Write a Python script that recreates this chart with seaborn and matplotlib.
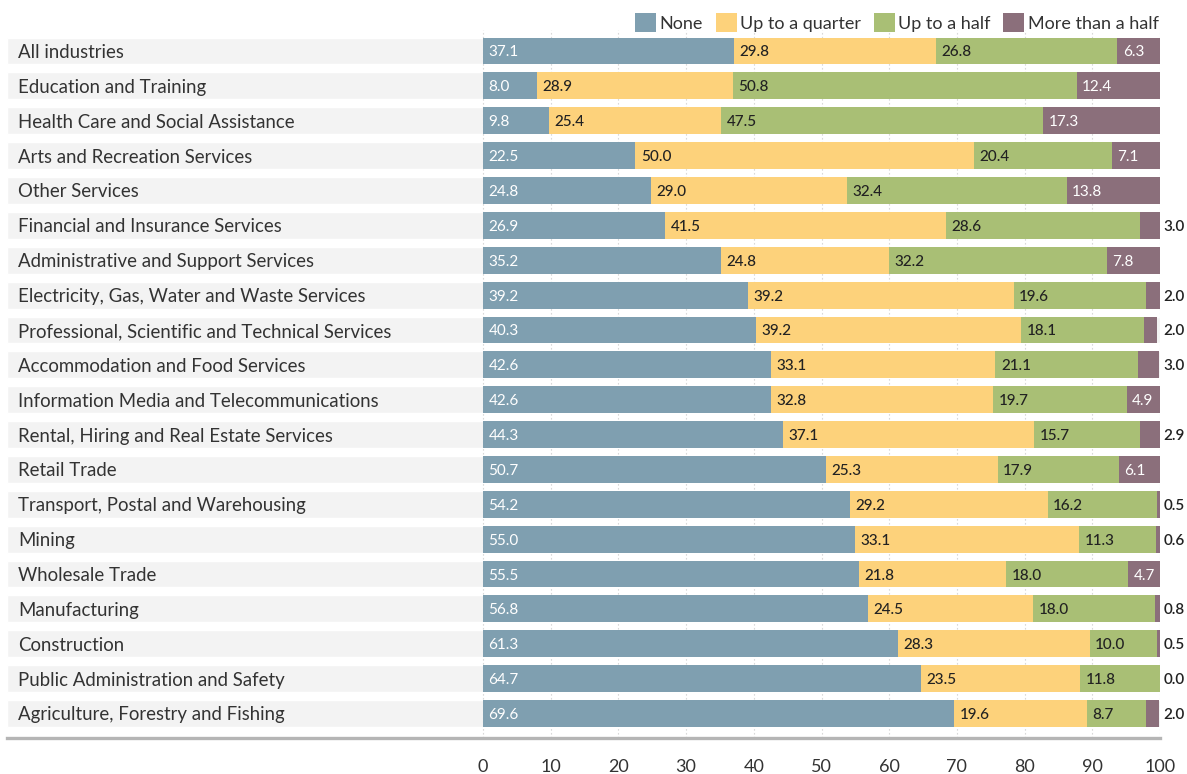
import matplotlib
matplotlib.use("Agg")
import matplotlib.pyplot as plt
from matplotlib.patches import Patch
import numpy as np
import pandas as pd
import seaborn as sns

industries = [
    "All industries",
    "Education and Training",
    "Health Care and Social Assistance",
    "Arts and Recreation Services",
    "Other Services",
    "Financial and Insurance Services",
    "Administrative and Support Services",
    "Electricity, Gas, Water and Waste Services",
    "Professional, Scientific and Technical Services",
    "Accommodation and Food Services",
    "Information Media and Telecommunications",
    "Rental, Hiring and Real Estate Services",
    "Retail Trade",
    "Transport, Postal and Warehousing",
    "Mining",
    "Wholesale Trade",
    "Manufacturing",
    "Construction",
    "Public Administration and Safety",
    "Agriculture, Forestry and Fishing",
]
none = [37.1, 8.0, 9.8, 22.5, 24.8, 26.9, 35.2, 39.2, 40.3, 42.6,
        42.6, 44.3, 50.7, 54.2, 55.0, 55.5, 56.8, 61.3, 64.7, 69.6]
up_to_quarter = [29.8, 28.9, 25.4, 50.0, 29.0, 41.5, 24.8, 39.2, 39.2, 33.1,
                 32.8, 37.1, 25.3, 29.2, 33.1, 21.8, 24.5, 28.3, 23.5, 19.6]
up_to_half = [26.8, 50.8, 47.5, 20.4, 32.4, 28.6, 32.2, 19.6, 18.1, 21.1,
              19.7, 15.7, 17.9, 16.2, 11.3, 18.0, 18.0, 10.0, 11.8, 8.7]
more_than_half = [6.3, 12.4, 17.3, 7.1, 13.8, 3.0, 7.8, 2.0, 2.0, 3.0,
                  4.9, 2.9, 6.1, 0.5, 0.6, 4.7, 0.8, 0.5, 0.0, 2.0]
series_names = ["None", "Up to a quarter", "Up to a half", "More than a half"]
x_ticks = [0, 10, 20, 30, 40, 50, 60, 70, 80, 90, 100]

colors = ["#7f9fb0", "#fdd27b", "#a9bf75", "#8b6f7b"]
text_colors = ["white", "#222222", "#222222", "white"]

W, H = 1187, 774
fig = plt.figure(figsize=(W / 100, H / 100), dpi=100)
sns.set_style("white")
plt.rcParams["font.family"] = ["Lato", "DejaVu Sans"]

# axes span the label column as well as the bar area
left_px, right_px, top_px, bottom_px = 7, 1160, 30, 738
ax = fig.add_axes([left_px / W, 1 - bottom_px / H,
                   (right_px - left_px) / W, (bottom_px - top_px) / H])
px_per_unit = (right_px - 483) / 100.0
x_min = -(483 - left_px) / px_per_unit
first_c, last_c = 51.0, 713.5
row_px = (last_c - first_c) / 19.0
y_top = -(first_c - top_px) / row_px
y_bot = 19 + (bottom_px - last_c) / row_px

df = pd.DataFrame({
    "industry": industries,
    "none": none,
    "quarter": up_to_quarter,
    "half": up_to_half,
    "more": more_than_half,
})
values = df[["none", "quarter", "half", "more"]].to_numpy()
cum = np.cumsum(values, axis=1)
starts = cum - values

# light band behind each row label
bar_h = 0.77
ax.barh(np.arange(len(industries)), 100 - x_min, left=x_min, height=bar_h,
        color="#f3f3f3", zorder=0)

# dotted vertical gridlines
for t in x_ticks:
    ax.axvline(t, color="#d9d9d9", lw=0.8, ls=(0, (1.5, 2)), zorder=0.5)

# stacked bars: draw cumulative totals from the outermost segment inward
for k in range(3, -1, -1):
    sns.barplot(x=cum[:, k], y=df["industry"], orient="h", color=colors[k],
                saturation=1, width=bar_h, edgecolor="none", ax=ax, zorder=2)

# value labels
for i in range(len(industries)):
    for k in range(4):
        v = values[i, k]
        if k == 3 and v < 4:
            ax.text(100.5, i, f"{v:.1f}", ha="left", va="center_baseline",
                    fontsize=11, color="#222222", fontweight="semibold",
                    clip_on=False, zorder=5)
        else:
            ax.text(starts[i, k] + 0.8, i, f"{v:.1f}", ha="left",
                    va="center_baseline", fontsize=11, color=text_colors[k],
                    fontweight="medium" if k in (1, 2) else "normal",
                    zorder=5)
    ax.text(x_min + 11 / px_per_unit, i, industries[i], ha="left",
            va="center_baseline", fontsize=13.4, color="#333333", zorder=5)

ax.set_xlim(x_min, 100)
ax.set_ylim(y_bot, y_top)
ax.set_xticks(x_ticks)
ax.set_xticklabels([str(t) for t in x_ticks], fontsize=13, color="#333333")
ax.tick_params(axis="x", length=0, pad=15)
ax.set_yticks([])
ax.set_xlabel("")
ax.set_ylabel("")
for s in ["top", "left", "right"]:
    ax.spines[s].set_visible(False)
ax.spines["bottom"].set_color("#b5b5b5")
ax.spines["bottom"].set_linewidth(2.4)

handles = [Patch(facecolor=c, edgecolor="none") for c in colors]
fig.legend(handles, series_names, loc="upper right", ncol=4,
           bbox_to_anchor=(1166 / W, 1 - 6 / H), frameon=False,
           fontsize=13, handlelength=1.15, handleheight=1.2,
           handletextpad=0.2, columnspacing=0.7, borderaxespad=0,
           labelcolor="#333333")

fig.savefig("out.png", dpi=100)
